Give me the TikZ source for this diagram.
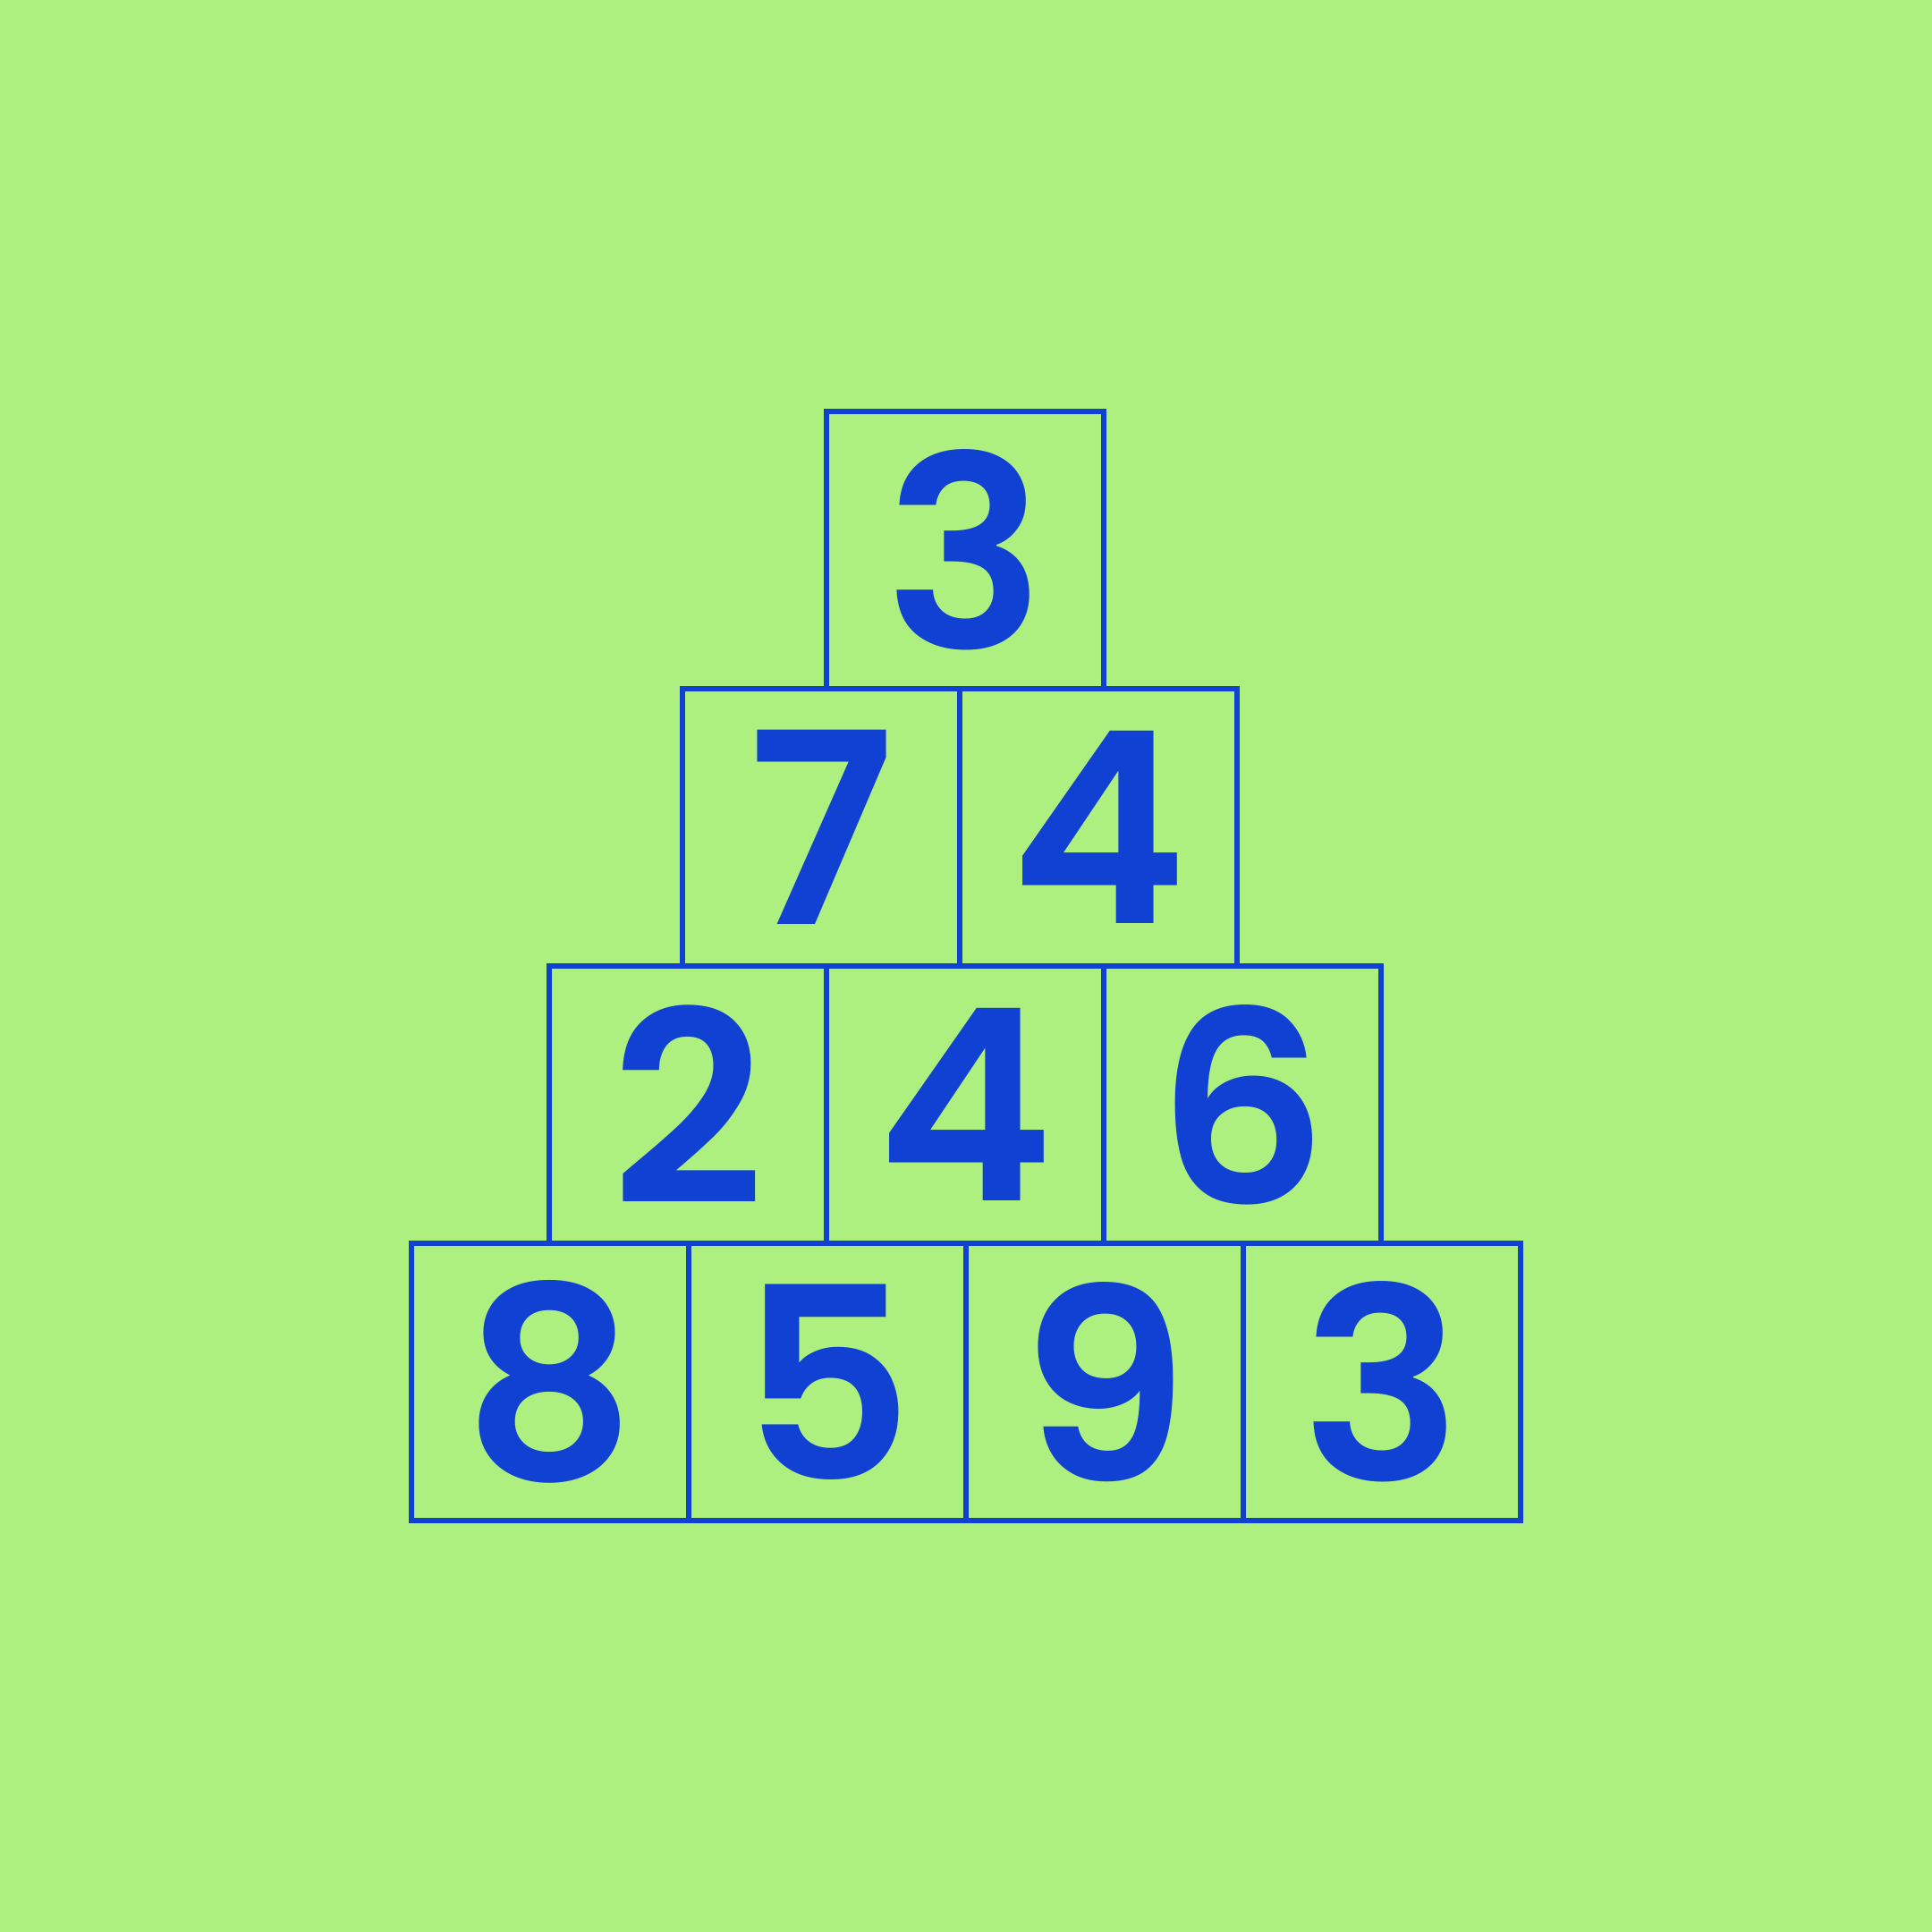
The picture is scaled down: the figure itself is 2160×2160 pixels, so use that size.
\documentclass[tikz,border=0pt]{standalone}
\usepackage{fontspec}
\newfontfamily\digitfont{Poppins SemiBold}
\definecolor{pyrgreen}{HTML}{AEF080}
\definecolor{pyrblue}{HTML}{1041D2}

\begin{document}
\begin{tikzpicture}
  [x=0.01cm,y=-0.01cm,
   every node/.style={draw=pyrblue,line width=1.9pt,minimum size=3.1cm,inner sep=0pt,
     text=pyrblue,font=\digitfont\fontsize{85}{85}\selectfont}]
  \fill[pyrgreen] (0,0) rectangle (2160,2160);
  \useasboundingbox (0,0) rectangle (2160,2160);

  % top row
  \node (t1) at (1079,615) {3};
  % second row
  \node (s1) at (918,925)  {7};
  \node (s2) at (1228,925) {4};
  % third row
  \node (r1) at (769,1235)  {2};
  \node (r2) at (1079,1235) {4};
  \node (r3) at (1389,1235) {6};
  % base
  \node (b1) at (615,1545)  {8};
  \node (b2) at (925,1545)  {5};
  \node (b3) at (1235,1545) {9};
  \node (b4) at (1545,1545) {3};

\end{tikzpicture}
\end{document}
